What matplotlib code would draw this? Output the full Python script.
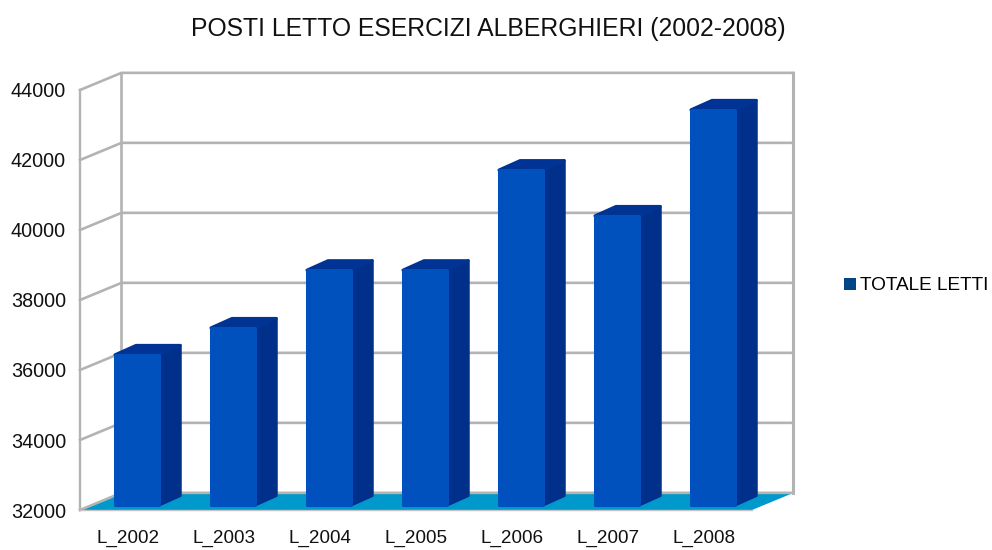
import matplotlib
matplotlib.use("Agg")
import matplotlib.pyplot as plt
from matplotlib.patches import Patch

plt.rcParams["font.family"] = ["Liberation Sans", "DejaVu Sans"]

categories = ["L_2002", "L_2003", "L_2004", "L_2005", "L_2006", "L_2007", "L_2008"]
totale_letti = [36290, 37060, 38710, 38710, 41570, 40260, 43290]
y_ticks = [32000, 34000, 36000, 38000, 40000, 42000, 44000]

FACE = "#0050BE"
SIDE = "#00308A"
TOP = "#003393"
FLOOR = "#0099CC"
GRID = "#B3B3B3"

# depth of the fake 3d box, in data units
wall_dx, wall_dy = 0.432, 490
bar_off_x, bar_off_y = 0.094, 143
bar_dx, bar_dy = 0.22, 270
bar_w = 0.46

fig = plt.figure(figsize=(9.92, 5.5), dpi=100)
ax = fig.add_axes([80 / 992, 40 / 550, 672 / 992, 420 / 550])
ax.set_xlim(-0.5, 6.5)
ax.set_ylim(32000, 44000)
for s in ax.spines.values():
    s.set_visible(False)
ax.patch.set_alpha(0)

x0, x1 = ax.get_xlim()
y0, y1 = ax.get_ylim()

# floor
ax.fill([x0, x0 + wall_dx, x1 + wall_dx, x1],
        [y0, y0 + wall_dy, y0 + wall_dy, y0],
        color=FLOOR, lw=0, clip_on=False, zorder=1)
ax.plot([x0, x1], [y0, y0], color="#C4C4C4", lw=1, clip_on=False, zorder=2)

# grid on side wall and back wall
for t in y_ticks:
    ax.plot([x0, x0 + wall_dx, x1 + wall_dx],
            [t, t + wall_dy, t + wall_dy],
            color=GRID, lw=1.9, clip_on=False, zorder=1, solid_joinstyle="miter")
ax.plot([x0, x0], [y0, y1], color=GRID, lw=1.7, clip_on=False, zorder=1)
ax.plot([x0 + wall_dx, x0 + wall_dx], [y0 + wall_dy, y1 + wall_dy],
        color=GRID, lw=1.9, clip_on=False, zorder=1)
ax.plot([x1 + wall_dx, x1 + wall_dx], [y0 + wall_dy, y1 + wall_dy],
        color=GRID, lw=2.2, clip_on=False, zorder=1)

# bars
positions = list(range(len(categories)))
for i, v in zip(positions, totale_letti):
    left = i + bar_off_x - bar_w / 2
    right = i + bar_off_x + bar_w / 2
    base = y0 + bar_off_y
    top = v + bar_off_y
    ax.fill([right, right + bar_dx, right + bar_dx, right],
            [base, base + bar_dy, top + bar_dy, top],
            facecolor=SIDE, edgecolor=SIDE, lw=2.2, joinstyle="round",
            clip_on=False, zorder=3)
    ax.fill([left, left + bar_dx, right + bar_dx, right],
            [top, top + bar_dy, top + bar_dy, top],
            facecolor=TOP, edgecolor=TOP, lw=2.2, joinstyle="round",
            clip_on=False, zorder=3)
ax.bar([p + bar_off_x for p in positions],
       [v - y0 for v in totale_letti], width=bar_w,
       bottom=y0 + bar_off_y, color=FACE, edgecolor=FACE, lw=2.2,
       joinstyle="round", clip_on=False, zorder=4)

ax.set_xticks(positions)
ax.set_xticklabels(categories)
ax.set_yticks(y_ticks)
ax.tick_params(axis="both", length=0, labelcolor="#111111")
ax.tick_params(axis="x", pad=14, labelsize=13.6)
ax.tick_params(axis="y", pad=10, labelsize=14.2)

fig.text(488 / 992, 1 - 29 / 550, "POSTI LETTO ESERCIZI ALBERGHIERI (2002-2008)",
         ha="center", va="center", fontsize=17.8, color="#111111")

fig.legend(handles=[Patch(facecolor="#004586", label="TOTALE LETTI")],
           loc="center left", bbox_to_anchor=(844 / 992, 1 - 286 / 550),
           frameon=False, fontsize=13.7, handlelength=0.62, handleheight=0.62,
           handletextpad=0.2, borderpad=0, borderaxespad=0)

fig.savefig("out.png", dpi=100)
